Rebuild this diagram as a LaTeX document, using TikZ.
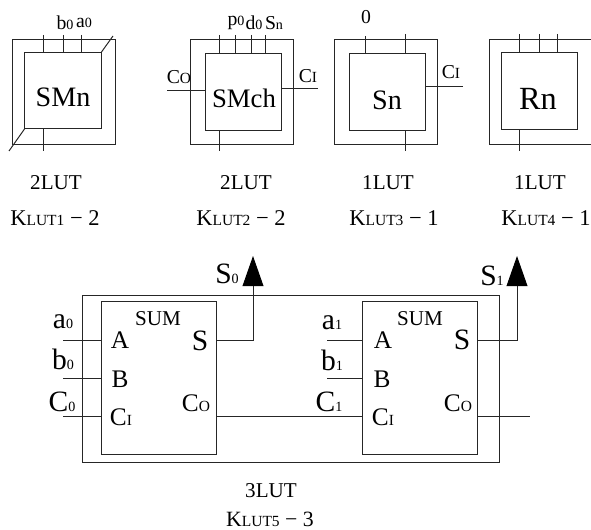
\documentclass[tikz,border=0pt]{standalone}
\usepackage{fontspec}
\setmainfont{Liberation Serif}
\usetikzlibrary{arrows.meta}
\newcommand{\fs}[1]{\fontsize{#1}{#1}\selectfont}
\newcommand{\lo}[1]{{\fs{10}#1}}
\newcommand{\scp}[1]{{\fs{11}#1}}
\tikzset{
    wire/.style={draw=black!85,line width=0.7pt},
    tipwire/.style={wire,-{Triangle[length=0.75cm,width=0.52cm,fill=black,color=black]}},
    outerbox/.style={draw=black!85,line width=0.7pt,inner sep=0pt,minimum width=2.55cm,minimum height=2.6cm},
    innerbox/.style={draw=black!85,line width=0.7pt,inner sep=0pt,minimum width=1.9cm,minimum height=1.9cm},
    sumbox/.style={draw=black!85,line width=0.7pt,inner sep=0pt,minimum width=2.85cm,minimum height=3.8cm},
    boxlabel/.style={inner sep=0pt,font=\fs{20}},
    lutlabel/.style={inner sep=0pt,font=\fs{16}},
    titlelabel/.style={inner sep=0pt,font=\fs{15}},
    pinlabel/.style={inner sep=0pt,font=\fs{14}},
    biglabel/.style={inner sep=0pt,font=\fs{21}},
    sumlabel/.style={inner sep=0pt,font=\fs{18}}
}
\begin{document}
\begin{tikzpicture}[x=0.025cm,y=-0.025cm]
        \useasboundingbox (0,0) rectangle (591,530);

        % upper row
        \node[outerbox] (smnout) at (64,92) {};
        \node[innerbox] (smn) at (63,90.5) {};
        \node[outerbox] (smchout) at (242,92) {};
        \node[innerbox] (smch) at (243,92) {};
        \node[outerbox] (snout) at (386,92) {};
        \node[innerbox] (sn) at (387,92) {};
        \node[outerbox] (rnout) at (540,92) {};
        \node[innerbox] (rn) at (539,91) {};

        \node[boxlabel] (lsmn) at (63,97) {SMn};
        \node[boxlabel,font=\fs{19}] (lsmch) at (244,98) {SMch};
        \node[boxlabel] (lsn2) at (387,100) {Sn};
        \node[boxlabel,font=\fs{23}] (lrn) at (538,99) {Rn};

        \coordinate (smna) at (43,35);
        \coordinate (smnb) at (63,35);
        \coordinate (smnc) at (81,35);
        \coordinate (smnd) at (43,151);
        \coordinate (smne) at (113,36);
        \coordinate (smnf) at (9,151);
        \draw[wire] (smna) -- (smna |- smn.north);
        \draw[wire] (smnb) -- (smnb |- smn.north);
        \draw[wire] (smnc) -- (smnc |- smn.north);
        \draw[wire] (smnd) -- (smnd |- smn.south);
        \draw[wire] (smne) -- (smn.north east);
        \draw[wire] (smnf) -- (smn.south west);

        \coordinate (smcha) at (219,35);
        \coordinate (smchb) at (235,35);
        \coordinate (smchc) at (251,35);
        \coordinate (smchd) at (265,35);
        \coordinate (smche) at (219,151);
        \coordinate (smchf) at (167,90);
        \coordinate (smchg) at (318,88);
        \draw[wire] (smcha) -- (smcha |- smch.north);
        \draw[wire] (smchb) -- (smchb |- smch.north);
        \draw[wire] (smchc) -- (smchc |- smch.north);
        \draw[wire] (smchd) -- (smchd |- smch.north);
        \draw[wire] (smche) -- (smche |- smch.south);
        \draw[wire] (smchf) -- (smchf -| smch.west);
        \draw[wire] (smchg) -- (smchg -| smch.east);

        \coordinate (sna) at (365,36);
        \coordinate (snb) at (405,34);
        \coordinate (snc) at (405,151);
        \coordinate (snd) at (463,86);
        \draw[wire] (sna) -- (sna |- sn.north);
        \draw[wire] (snb) -- (snb |- sn.north);
        \draw[wire] (snc) -- (snc |- sn.south);
        \draw[wire] (snd) -- (snd -| sn.east);

        \coordinate (rna) at (519,34);
        \coordinate (rnb) at (539,34);
        \coordinate (rnc) at (557,34);
        \coordinate (rnd) at (519,151);
        \draw[wire] (rna) -- (rna |- rn.north);
        \draw[wire] (rnb) -- (rnb |- rn.north);
        \draw[wire] (rnc) -- (rnc |- rn.north);
        \draw[wire] (rnd) -- (rnd |- rn.south);

        \node[pinlabel] (lb0) at (65,23) {b\lo{0}};
        \node[pinlabel] (la0) at (84,23) {a\lo{0}};
        \node[pinlabel] (lp0) at (236,23) {p\lo{0}};
        \node[pinlabel] (ld0) at (254,23) {d\lo{0}};
        \node[pinlabel] (lsn) at (274,23) {S\lo{n}};
        \node[pinlabel] (lco) at (179,77) {C\scp{O}};
        \node[pinlabel] (lci) at (308,76) {C\scp{I}};
        \node[pinlabel] (lzero) at (366,17) {0};
        \node[pinlabel] (lcj) at (451,72) {C\scp{I}};

        \node[titlelabel] (luta) at (56,183) {2LUT};
        \node[titlelabel] (lutb) at (246,183) {2LUT};
        \node[titlelabel] (lutc) at (388,183) {1LUT};
        \node[titlelabel] (lutd) at (540,183) {1LUT};
        \node[lutlabel] (kluta) at (55,218) {K\scp{LUT1} − 2};
        \node[lutlabel] (klutb) at (241,218) {K\scp{LUT2} − 2};
        \node[lutlabel] (klutc) at (394,218) {K\scp{LUT3} − 1};
        \node[lutlabel] (klutd) at (546,218) {K\scp{LUT4} − 1};

        % lower row
        \node[draw=black!85,line width=0.7pt,inner sep=0pt,minimum width=10.4cm,minimum height=4.15cm] (lut) at (291,379) {};
        \node[sumbox,fill=white] (suma) at (159,378) {};
        \node[sumbox,fill=white] (sumb) at (420,378) {};

        \coordinate (aa) at (63,340);
        \coordinate (ab) at (63,378);
        \coordinate (ac) at (63,416);
        \coordinate (ba) at (327,340);
        \coordinate (bb) at (327,378);
        \coordinate (sa) at (253,256);
        \coordinate (sb) at (517,256);
        \coordinate (co) at (530,416);
        \draw[wire] (aa) -- (aa -| suma.west);
        \draw[wire] (ab) -- (ab -| suma.west);
        \draw[wire] (ac) -- (ac -| suma.west);
        \draw[wire] (ba) -- (ba -| sumb.west);
        \draw[wire] (bb) -- (bb -| sumb.west);
        \draw[wire] (ac -| suma.east) -- (ac -| sumb.west);
        \draw[wire] (co -| sumb.east) -- (co);
        \draw[tipwire] (aa -| suma.east) -- (aa -| sa) -- (sa);
        \draw[tipwire] (aa -| sumb.east) -- (aa -| sb) -- (sb);

        \node[biglabel] (ls0) at (227,274) {S\lo{0}};
        \node[biglabel] (la0b) at (63,322) {a\lo{0}};
        \node[biglabel] (lb0b) at (63,359) {b\lo{0}};
        \node[biglabel] (lc0) at (62,402) {C\lo{0}};
        \node[biglabel] (ls1) at (492,276) {S\lo{1}};
        \node[biglabel] (la1) at (332,323) {a\lo{1}};
        \node[biglabel] (lb1) at (332,360) {b\lo{1}};
        \node[biglabel] (lc1) at (329,402) {C\lo{1}};

        \node[titlelabel] (lsuma) at (158,319) {SUM};
        \node[titlelabel] (lsumb) at (420,319) {SUM};
        \node[sumlabel] (pa) at (120,340) {A};
        \node[sumlabel] (pb) at (120,379) {B};
        \node[sumlabel] (pc) at (121,417) {C\scp{I}};
        \node[biglabel] (ps) at (200,341) {S};
        \node[sumlabel] (po) at (196,403) {C\scp{O}};
        \node[sumlabel] (qa) at (383,340) {A};
        \node[sumlabel] (qb) at (382,379) {B};
        \node[sumlabel] (qc) at (383,417) {C\scp{I}};
        \node[biglabel] (qs) at (462,340) {S};
        \node[sumlabel] (qo) at (458,403) {C\scp{O}};

        \node[titlelabel] (lute) at (271,491) {3LUT};
        \node[lutlabel,font=\fs{15.5}] (klute) at (270,519) {K\scp{LUT5} − 3};
\end{tikzpicture}
\end{document}
